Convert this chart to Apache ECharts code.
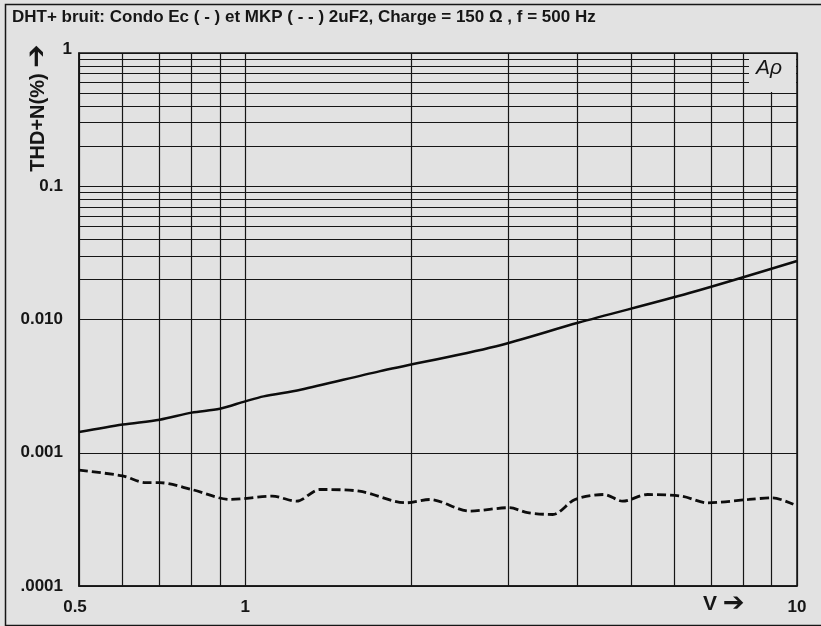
<!DOCTYPE html>
<html>
<head>
<meta charset="utf-8">
<script src="https://cdn.jsdelivr.net/npm/echarts@6/dist/echarts.min.js"></script>
<style>
  html, body { margin: 0; padding: 0; background: #e2e2e2; }
  #chart { width: 821px; height: 626px; }
</style>
</head>
<body>
<div id="chart"></div>
<script>
// Condo Ec (solid): [V, THD+N %]
var condoEc = [
  [0.5, 0.00143], [0.6, 0.00163], [0.7, 0.00177], [0.8, 0.0020], [0.9, 0.00214],
  [1.0, 0.00243], [1.08, 0.00265], [1.26, 0.00297], [1.75, 0.00408], [2.84, 0.00628],
  [4.01, 0.00945], [6.38, 0.0158], [10, 0.0275]
];
// MKP (dashed)
var mkp = [
  [0.5, 0.00074], [0.6, 0.00067], [0.66, 0.000596], [0.7, 0.000596], [0.8, 0.00053],
  [0.94, 0.000446], [1.12, 0.000472], [1.24, 0.000433], [1.365, 0.00053], [1.61, 0.000515],
  [1.96, 0.000421], [2.16, 0.000446], [2.55, 0.000365], [3.01, 0.000387], [3.25, 0.000355],
  [3.61, 0.000344], [3.96, 0.000446], [4.47, 0.000486], [4.83, 0.000433], [5.36, 0.000486],
  [6.19, 0.000472], [6.88, 0.000421], [8.18, 0.000446], [9.03, 0.000459], [9.85, 0.00041]
];
var yTickLabels = ['1', '0.1', '0.010', '0.001', '.0001'];
var xGridValues = [0.6, 0.7, 0.8, 0.9, 2, 3, 4, 5, 6, 7, 8, 9];
var yGridValues = [];
[0.1, 0.01, 0.001, 0.0001].forEach(function (d) {
  for (var k = 2; k <= 9; k++) yGridValues.push(+(d * k).toPrecision(3));
});

var font = "'Liberation Sans Narrow', 'Liberation Sans', Arial, sans-serif";
var bg = '#e2e2e2';
var ink = '#161616';

var chart = echarts.init(document.getElementById('chart'));

var gridLines = xGridValues.map(function (v) { return { xAxis: v }; })
  .concat(yGridValues.map(function (v) { return { yAxis: v }; }));

var option = {
  backgroundColor: bg,
  animation: false,
  title: {
    text: 'DHT+ bruit: Condo Ec ( - ) et MKP ( - - ) 2uF2, Charge = 150 \u03A9 , f = 500 Hz',
    left: 7,
    top: 4,
    textStyle: { fontFamily: font, fontWeight: 'bold', fontSize: 17, color: ink }
  },
  grid: {
    left: 79, right: 24, top: 53, bottom: 40,
    show: true, borderColor: ink, borderWidth: 1.5, backgroundColor: 'transparent'
  },
  xAxis: {
    type: 'log',
    logBase: 10,
    min: 0.5,
    max: 10,
    axisLine: { show: true, lineStyle: { color: ink, width: 1.5 } },
    axisTick: { show: false },
    splitLine: { show: true, lineStyle: { color: ink, width: 1.2 } },
    axisLabel: {
      margin: 13,
      fontFamily: font, fontWeight: 'bold', fontSize: 17, color: ink,
      showMinLabel: true, showMaxLabel: true,
      formatter: function (v) {
        if (Math.abs(v - 0.5) < 1e-6) return '{h|0.5}';
        return String(Math.round(v));
      },
      rich: {
        h: { fontFamily: font, fontWeight: 'bold', fontSize: 17, color: ink, padding: [0, 8, 0, 0] }
      }
    }
  },
  yAxis: {
    type: 'log',
    logBase: 10,
    min: 0.0001,
    max: 1,
    axisLine: { show: true, lineStyle: { color: ink, width: 1.5 } },
    axisTick: { show: false },
    splitLine: { show: true, lineStyle: { color: ink, width: 1.2 } },
    axisLabel: {
      margin: 7,
      fontFamily: font, fontWeight: 'bold', fontSize: 17, color: ink,
      formatter: function (v) {
        var i = -Math.round(Math.log10(v));
        if (i === 0) return '{one|1}';
        return '{n|' + yTickLabels[i] + '}';
      },
      rich: {
        one: { fontFamily: font, fontWeight: 'bold', fontSize: 17, color: ink, padding: [0, 0, 8, 0] },
        n: { fontFamily: font, fontWeight: 'bold', fontSize: 17, color: ink, padding: [0, 9, 0, 0] }
      }
    }
  },
  series: [
    {
      name: 'grid',
      type: 'line',
      data: [],
      silent: true,
      markLine: {
        silent: true,
        symbol: 'none',
        label: { show: false },
        lineStyle: { color: ink, width: 1.2, type: 'solid' },
        data: gridLines
      }
    },
    {
      name: 'Condo Ec',
      type: 'line',
      data: condoEc,
      smooth: 0.3,
      symbol: 'none',
      lineStyle: { color: '#0d0d0d', width: 2.5 },
      z: 5
    },
    {
      name: 'MKP',
      type: 'line',
      data: mkp,
      smooth: 0.3,
      symbol: 'none',
      lineStyle: { color: '#0d0d0d', width: 2.8, type: [9, 4] },
      z: 5
    }
  ],
  graphic: [
    // outer frame of the plotter sheet
    {
      type: 'rect', left: 3, top: 2, z: 50, silent: true,
      shape: { width: 840, height: 621 },
      style: { fill: null, stroke: ink, lineWidth: 1.5 }
    },
    // AP logo box in the upper right corner
    {
      type: 'rect', left: 749, top: 54, z: 60, silent: true,
      shape: { width: 47, height: 38 },
      style: { fill: bg }
    },
    {
      type: 'text', left: 756, top: 58, z: 61, silent: true,
      style: { text: 'A\u03C1', fontFamily: 'Liberation Sans, sans-serif', fontStyle: 'italic', fontSize: 21, fill: ink }
    },
    // y axis title with arrow
    {
      type: 'text', x: 38, y: 108, rotation: Math.PI / 2, z: 60, silent: true,
      style: {
        text: 'THD+N(%) {a|\u2794}',
        align: 'center', verticalAlign: 'middle',
        fontFamily: font, fontWeight: 'bold', fontSize: 20, fill: ink,
        rich: { a: { fontFamily: 'DejaVu Sans, sans-serif', fontSize: 28, fill: ink } }
      }
    },
    // x axis title with arrow
    {
      type: 'text', left: 703, top: 591, z: 60, silent: true,
      style: {
        text: 'V {a|\u2794}',
        fontFamily: font, fontWeight: 'bold', fontSize: 21, fill: ink,
        rich: { a: { fontFamily: 'DejaVu Sans, sans-serif', fontSize: 26, fill: ink } }
      }
    }
  ]
};

chart.setOption(option);

window.onresize = function () {
  chart.resize();
};
</script>
</body>
</html>
